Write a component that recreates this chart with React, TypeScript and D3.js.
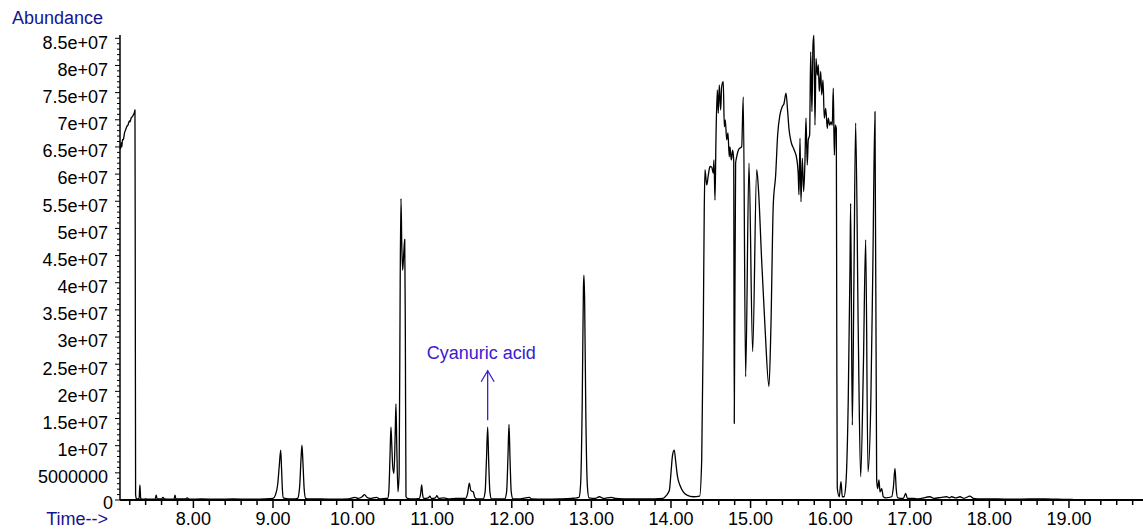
import React from "react";
import * as d3 from "d3";

const W = 1143;
const H = 529;

// Total ion chromatogram: [time (min), abundance (x 1e6)]
const traceStart: [number, number][] = [
  [7.083, 64.6], [7.092, 65.8], [7.1, 65.0], [7.11, 66.4], [7.119, 66.3], [7.135, 67.6], [7.15, 68.2],
  [7.162, 68.7], [7.18, 69.1], [7.195, 69.8], [7.204, 69.6], [7.22, 70.4], [7.235, 70.6], [7.245, 70.9],
  [7.258, 71.3], [7.266, 71.8], [7.27, 40.0], [7.274, 1.0], [7.285, 0.2], [7.3, 0.2], [7.318, 0.3],
  [7.328, 2.8], [7.338, 0.3], [7.35, 0.15], [7.4, 0.2], [7.45, 0.15], [7.52, 0.2], [7.532, 0.9],
  [7.545, 0.2], [7.6, 0.2], [7.618, 0.5], [7.635, 0.2], [7.7, 0.15], [7.758, 0.2], [7.769, 0.9],
  [7.78, 0.2], [7.85, 0.2], [7.9, 0.2], [7.92, 0.4], [7.95, 0.15], [8.1, 0.2], [8.3, 0.15], [8.5, 0.2],
  [8.7, 0.15], [8.9, 0.2],
];

const trace9to11: [number, number][] = [
  [9.0, 0.3], [9.03, 0.9], [9.06, 3.0], [9.08, 6.5], [9.097, 9.2], [9.107, 6.0], [9.118, 2.0], [9.13, 0.4],
  [9.2, 0.2], [9.28, 0.2], [9.31, 0.3], [9.335, 2.5], [9.352, 7.5], [9.364, 10.1], [9.376, 7.0],
  [9.392, 2.0], [9.41, 0.3], [9.45, 0.2], [9.6, 0.2], [9.8, 0.15], [9.95, 0.2], [10.03, 0.5], [10.07, 0.3],
  [10.12, 0.6], [10.15, 1.0], [10.18, 0.5], [10.22, 0.3], [10.3, 0.5], [10.34, 0.2], [10.42, 0.3],
  [10.44, 0.3], [10.455, 1.5], [10.47, 8.0], [10.482, 13.4], [10.49, 11.0], [10.505, 6.0], [10.52, 4.9],
  [10.535, 12.0], [10.545, 17.7], [10.555, 10.0], [10.57, 1.5], [10.585, 5.0], [10.598, 40.0],
  [10.608, 55.5], [10.618, 47.0], [10.629, 42.3], [10.645, 46.0], [10.655, 48.0], [10.663, 30.0],
  [10.671, 0.6], [10.69, 0.3], [10.75, 0.2], [10.84, 0.3], [10.855, 1.2], [10.868, 2.8], [10.88, 1.0],
  [10.895, 0.3], [10.95, 0.4], [10.97, 0.7], [10.99, 0.3],
];

const trace11to14: [number, number][] = [
  [11.04, 0.4], [11.06, 0.8], [11.08, 0.3], [11.15, 0.4], [11.2, 0.2], [11.3, 0.3], [11.38, 0.3],
  [11.42, 0.3], [11.445, 1.2], [11.466, 3.1], [11.485, 1.8], [11.5, 1.6], [11.516, 1.5], [11.535, 0.5],
  [11.56, 0.2], [11.64, 0.2], [11.665, 1.5], [11.682, 7.5], [11.697, 13.4], [11.71, 7.0], [11.725, 1.5],
  [11.745, 0.2], [11.91, 0.2], [11.935, 1.5], [11.952, 8.0], [11.965, 13.9], [11.978, 7.5], [11.993, 1.5],
  [12.015, 0.2], [12.1, 0.2], [12.22, 0.5], [12.25, 0.2], [12.4, 0.15], [12.6, 0.2], [12.75, 0.3],
  [12.82, 0.4], [12.845, 0.5], [12.865, 3.0], [12.885, 18.0], [12.9, 39.0], [12.907, 41.4], [12.915, 37.0],
  [12.93, 16.0], [12.95, 2.5], [12.97, 0.4], [13.05, 0.3], [13.1, 0.6], [13.15, 0.3], [13.25, 0.5],
  [13.3, 0.3], [13.5, 0.2], [13.7, 0.2], [13.9, 0.3], [13.94, 0.8], [13.98, 1.8], [14.0, 5.0], [14.02, 8.3],
  [14.041, 9.2], [14.06, 7.0], [14.08, 4.5], [14.11, 2.8], [14.15, 1.6], [14.2, 0.9], [14.28, 0.6],
  [14.36, 0.7],
];

const trace14to16: [number, number][] = [
  [14.386, 7.4], [14.406, 31.9], [14.418, 53.4], [14.427, 60.8], [14.449, 58.0], [14.469, 59.8],
  [14.49, 61.4], [14.511, 61.3], [14.531, 60.2], [14.54, 62.6], [14.553, 55.2], [14.565, 66.3],
  [14.582, 75.5], [14.594, 71.2], [14.607, 76.4], [14.624, 71.8], [14.637, 76.1], [14.657, 77.0],
  [14.67, 68.7], [14.682, 70.0], [14.7, 66.3], [14.716, 67.6], [14.732, 63.2], [14.741, 65.0],
  [14.758, 62.6], [14.775, 64.4], [14.788, 62.6], [14.795, 14.1], [14.812, 62.0], [14.826, 63.2],
  [14.846, 64.4], [14.867, 64.8], [14.888, 65.0], [14.908, 74.2], [14.938, 22.7], [14.98, 62.0],
  [15.026, 27.3], [15.077, 60.8], [15.097, 57.7], [15.139, 44.2], [15.181, 31.9], [15.231, 20.9],
  [15.256, 32.2], [15.285, 54.3], [15.315, 59.8], [15.34, 67.2], [15.369, 70.9], [15.398, 72.4],
  [15.42, 73.0], [15.445, 74.9], [15.466, 71.5], [15.482, 68.4], [15.508, 66.0], [15.549, 64.4],
  [15.579, 62.9], [15.599, 59.8], [15.608, 56.2], [15.621, 66.6], [15.633, 54.9], [15.65, 62.9],
  [15.667, 56.8], [15.683, 62.3], [15.696, 70.3], [15.712, 61.7], [15.725, 66.3], [15.742, 67.2],
  [15.755, 82.5], [15.771, 71.5], [15.784, 83.8], [15.796, 85.6], [15.809, 69.0], [15.822, 81.3],
  [15.838, 78.2], [15.851, 80.1], [15.863, 75.2], [15.881, 78.9], [15.893, 74.6], [15.91, 77.3],
  [15.926, 70.3], [15.944, 72.1], [15.964, 68.4], [15.976, 70.3], [15.994, 69.0],
];

const trace16to19: [number, number][] = [
  [16.01, 69.6], [16.026, 69.0], [16.039, 75.8], [16.052, 63.5], [16.064, 69.0], [16.077, 68.4],
  [16.083, 30.0], [16.089, 2.2], [16.114, 0.6], [16.136, 3.4], [16.152, 0.6], [16.173, 0.6],
  [16.198, 3.1], [16.227, 18.4], [16.249, 43.0], [16.257, 54.6], [16.278, 13.8], [16.298, 40.0],
  [16.32, 69.4], [16.353, 30.7], [16.383, 4.3], [16.417, 24.5], [16.446, 47.9], [16.475, 5.2],
  [16.511, 18.4], [16.536, 43.0], [16.563, 71.5], [16.584, 3.7], [16.597, 2.1], [16.613, 3.7],
  [16.626, 1.5], [16.647, 2.1], [16.667, 0.6], [16.701, 0.4], [16.773, 0.6], [16.795, 2.5],
  [16.814, 5.8], [16.83, 2.0], [16.848, 0.4], [16.92, 0.3], [16.948, 1.2], [16.97, 0.3], [17.05, 0.3],
  [17.1, 0.2], [17.254, 0.6], [17.3, 0.3], [17.4, 0.5], [17.464, 0.6], [17.5, 0.4], [17.526, 0.6],
  [17.58, 0.4], [17.631, 0.6], [17.68, 0.3], [17.756, 0.7], [17.8, 0.3], [17.9, 0.2], [18.1, 0.2],
  [18.3, 0.15], [18.5, 0.2], [18.7, 0.2], [18.85, 0.15], [19.05, 0.1],
];

const xTickValues = [8, 9, 10, 11, 12, 13, 14, 15, 16, 17, 18, 19];
const xTickLabels = ["8.00", "9.00", "10.00", "11.00", "12.00", "13.00", "14.00", "15.00", "16.00", "17.00", "18.00", "19.00"];
const yTickValues = [0, 5e6, 1e7, 1.5e7, 2e7, 2.5e7, 3e7, 3.5e7, 4e7, 4.5e7, 5e7, 5.5e7, 6e7, 6.5e7, 7e7, 7.5e7, 8e7, 8.5e7];
const yTickLabels = ["0", "5000000", "1e+07", "1.5e+07", "2e+07", "2.5e+07", "3e+07", "3.5e+07", "4e+07", "4.5e+07", "5e+07", "5.5e+07", "6e+07", "6.5e+07", "7e+07", "7.5e+07", "8e+07", "8.5e+07"];
const annotations = [{ label: "Cyanuric acid", time: 11.697 }];

const FONT = "'Liberation Sans', Arial, Helvetica, sans-serif";
const NAVY = "#15158f";
const ANNOT = "#3a20d0";

export default function App() {
  const x = d3.scaleLinear().domain([7.078, 19.93]).range([120, 1143]);
  const y = d3.scaleLinear().domain([0, 85e6]).range([500, 38.3]);
  const data = [...traceStart, ...trace9to11, ...trace11to14, ...trace14to16, ...trace16to19];
  const line = d3
    .line<[number, number]>()
    .x((d) => x(d[0]))
    .y((d) => y(d[1] * 1e6))
    .curve(d3.curveMonotoneX);

  const minorX = d3.range(36, 100).map((k) => k / 5);
  const minorY = d3.range(0, 86).map((k) => k * 1e6);
  const yTop = y(85.6e6);

  return (
    <svg
      width={W}
      height={H}
      style={{ position: "absolute", left: 0, top: 0, display: "block", background: "#fff" }}
      fontFamily={FONT}
    >
      <text x={12} y={24} fontSize={18} fill={NAVY}>Abundance</text>
      <text x={108} y={524.5} fontSize={18} fill={NAVY} textAnchor="end">Time--&gt;</text>

      {/* y axis */}
      <line x1={120} x2={120} y1={yTop} y2={500} stroke="#000" strokeWidth={1.5} />
      {minorY.map((v, i) => (
        <line key={"my" + i} x1={i % 5 === 0 ? 115 : 117} x2={120} y1={y(v)} y2={y(v)} stroke="#000" strokeWidth={1} />
      ))}
      {yTickValues.map((v, i) => (
        <text key={"yl" + i} x={i === 0 ? 113 : 108} y={y(v) + (i === 0 ? 9 : 10.3)} fontSize={18} textAnchor="end" fill="#000">
          {yTickLabels[i]}
        </text>
      ))}

      {/* x axis */}
      <line x1={120} x2={1143} y1={500} y2={500} stroke="#000" strokeWidth={2} />
      {minorX.map((t, i) => {
        const major = Math.abs(t - Math.round(t)) < 1e-6;
        return (
          <line key={"mx" + i} x1={x(t)} x2={x(t)} y1={500} y2={major ? 508 : 505} stroke="#000" strokeWidth={1.5} />
        );
      })}
      {xTickValues.map((t, i) => (
        <text key={"xl" + i} x={x(t)} y={524.5} fontSize={18} textAnchor="middle" fill="#000">
          {xTickLabels[i]}
        </text>
      ))}

      {/* trace */}
      <path d={line(data) || ""} fill="none" stroke="#000" strokeWidth={1.3} strokeLinejoin="round" />

      {/* annotation */}
      {annotations.map((a, i) => {
        const ax = x(a.time);
        const yBottom = y(14.7e6);
        const yTip = y(23.8e6);
        return (
          <g key={"an" + i} stroke={ANNOT} fill="none" strokeWidth={1.3}>
            <line x1={ax} x2={ax} y1={yBottom} y2={yTip} />
            <polyline points={`${ax - 6.5},${yTip + 11} ${ax},${yTip} ${ax + 6.5},${yTip + 11}`} />
            <text x={ax - 61} y={y(26e6)} fontSize={18} fill={ANNOT} stroke="none">
              {a.label}
            </text>
          </g>
        );
      })}
    </svg>
  );
}
